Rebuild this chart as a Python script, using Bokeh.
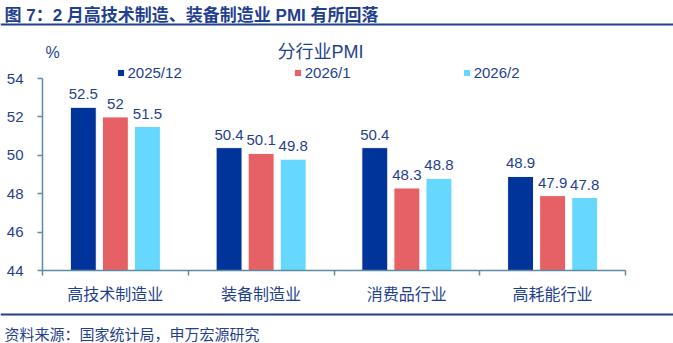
from bokeh.plotting import figure
from bokeh.models import (Range1d, FixedTicker, Label, Legend, LegendItem,
                          ColumnDataSource, BoxAnnotation, LinearAxis)
from bokeh.core.properties import value
from bokeh.embed import file_html
from bokeh.resources import INLINE

# ---------------- data ----------------
categories = ["高技术制造业", "装备制造业", "消费品行业", "高耗能行业"]
series_names = ["2025/12", "2026/1", "2026/2"]
pmi_2025_12 = [52.5, 50.4, 50.4, 48.9]
pmi_2026_01 = [52.0, 50.1, 48.3, 47.9]
pmi_2026_02 = [51.5, 49.8, 48.8, 47.8]
y_ticks = [44, 46, 48, 50, 52, 54]
title_text = "图 7：2 月高技术制造、装备制造业 PMI 有所回落"
subtitle_text = "分行业PMI"
unit_text = "%"
source_text = "资料来源：国家统计局，申万宏源研究"

# ---------------- style / layout ----------------
W, H = 673, 343
AX_L, AX_R, AX_T, AX_B = 42, 625, 78, 270     # plotting box in canvas px
TEXT = "#1F3F8F"
AXIS = "#5E8C9E"
COLORS = ["#00349A", "#E66165", "#66D8FF"]
FONT = "'Liberation Sans', 'Noto Sans CJK SC', sans-serif"
BAR_W = 0.178
STEP = 0.22

n = len(categories)
y0, y1 = y_ticks[0], y_ticks[-1]
kx = (AX_R - AX_L) / n            # px per category
ky = (AX_B - AX_T) / (y1 - y0)    # px per PMI point
x_range = Range1d(-AX_L / kx, n + (W - AX_R) / kx)
y_range = Range1d(y0 - (H - AX_B) / ky, y1 + AX_T / ky)

p = figure(width=W, height=H, output_backend="svg", toolbar_location=None,
           x_range=x_range, y_range=y_range,
           x_axis_type=None, y_axis_type=None, title=None,
           min_border=0)
p.outline_line_color = None
p.xgrid.visible = False
p.ygrid.visible = False
p.background_fill_color = "white"
p.border_fill_color = "white"

# y axis
yaxis = LinearAxis(ticker=FixedTicker(ticks=y_ticks, minor_ticks=[]),
                   fixed_location=0, bounds=(y0, y1))
yaxis.axis_line_color = AXIS
yaxis.axis_line_width = 1.5
yaxis.major_tick_line_color = AXIS
yaxis.major_tick_line_width = 1.5
yaxis.major_tick_out = 5
yaxis.major_tick_in = 0
yaxis.minor_tick_line_color = None
yaxis.major_label_standoff = 14
yaxis.major_label_text_font = FONT
yaxis.major_label_text_font_size = "15px"
yaxis.major_label_text_color = TEXT
p.add_layout(yaxis, "left")

# x axis: labels at group centres, tick marks at group boundaries
centres = [i + 0.5 for i in range(n)]
bounds = [float(i) for i in range(n + 1)]
xaxis = LinearAxis(ticker=FixedTicker(ticks=centres, minor_ticks=bounds),
                   fixed_location=y0, bounds=(0, n))
xaxis.major_label_overrides = {c: name for c, name in zip(centres, categories)}
xaxis.axis_line_color = AXIS
xaxis.axis_line_width = 1.5
xaxis.major_tick_out = 0
xaxis.major_tick_in = 0
xaxis.major_tick_line_color = None
xaxis.minor_tick_line_color = AXIS
xaxis.minor_tick_line_width = 1.5
xaxis.minor_tick_out = 5
xaxis.minor_tick_in = 0
xaxis.major_label_standoff = 10
xaxis.major_label_text_font = FONT
xaxis.major_label_text_font_size = "16px"
xaxis.major_label_text_color = TEXT
p.add_layout(xaxis, "below")

# bars and value labels
all_series = [pmi_2025_12, pmi_2026_01, pmi_2026_02]
items = []
for k, (vals, name, col) in enumerate(zip(all_series, series_names, COLORS)):
    xs = [c + (k - 1) * STEP for c in centres]
    src = ColumnDataSource(dict(x=xs, top=vals, lbl=[f"{v:g}" for v in vals]))
    r = p.vbar(x="x", top="top", bottom=y0, width=BAR_W, source=src,
               fill_color=col, line_color="white", line_width=1)
    p.text(x="x", y="top", text="lbl", source=src, text_align="center",
           text_baseline="alphabetic", y_offset=-13, text_font=value(FONT),
           text_font_size="15px", text_color=TEXT)
    items.append(LegendItem(label=name, renderers=[r]))

# legend (location is bottom-left corner, px from canvas bottom-left)
legend = Legend(items=items, orientation="horizontal", location=(115.5, H - 81),
                glyph_width=9, glyph_height=9, label_standoff=3, spacing=111,
                padding=0, margin=0, border_line_color=None,
                background_fill_alpha=0, label_text_font=FONT,
                label_text_font_size="15px", label_text_color=TEXT,
                label_height=17)
p.add_layout(legend, "center")


def sy(cy):
    return H - cy


# header / footer texts
p.add_layout(Label(x=4, y=sy(15), x_units="screen", y_units="screen",
                   text=title_text, text_font=FONT, text_font_size="17px",
                   text_font_style="bold", text_color=TEXT,
                   text_baseline="middle", text_align="left"))
p.add_layout(Label(x=52, y=sy(52), x_units="screen", y_units="screen",
                   text=unit_text, text_font=FONT, text_font_size="16px",
                   text_color=TEXT, text_baseline="middle", text_align="center"))
p.add_layout(Label(x=320, y=sy(51), x_units="screen", y_units="screen",
                   text=subtitle_text, text_font=FONT, text_font_size="18px",
                   text_color=TEXT, text_baseline="middle", text_align="center"))
p.add_layout(Label(x=4, y=sy(333.5), x_units="screen", y_units="screen",
                   text=source_text, text_font=FONT, text_font_size="15px",
                   text_color=TEXT, text_baseline="middle", text_align="left"))

# rules under the title and above the source
for top_y, bot_y in [(23, 25), (313, 315)]:
    p.add_layout(BoxAnnotation(left=0, right=W, top=sy(top_y), bottom=sy(bot_y),
                               left_units="screen", right_units="screen",
                               top_units="screen", bottom_units="screen",
                               fill_color=TEXT, fill_alpha=1, line_color=None))

open("out.html", "w").write(file_html(p, INLINE))
